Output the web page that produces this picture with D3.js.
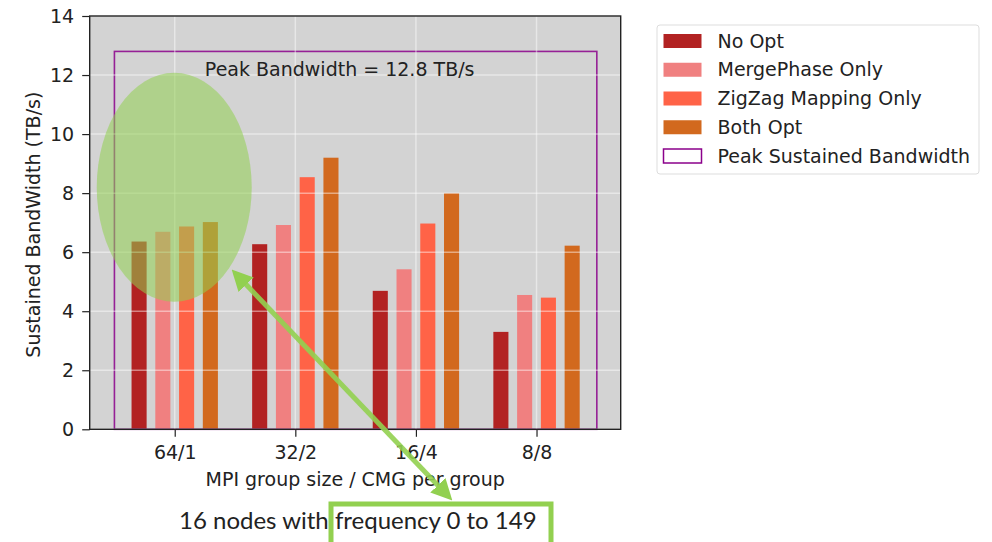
<!DOCTYPE html>
<html>
<head>
<meta charset="utf-8">
<script src="https://cdn.jsdelivr.net/npm/d3@7/dist/d3.min.js"></script>
<style>
  body { margin: 0; background: #fff; }
  svg text { font-family: "DejaVu Sans", sans-serif; fill: #222; }
</style>
</head>
<body>
<svg id="chart" width="992" height="542"></svg>
<script>
const categories = ['64/1', '32/2', '16/4', '8/8'];
const seriesNames = ['No Opt', 'MergePhase Only', 'ZigZag Mapping Only', 'Both Opt'];
const seriesColors = ['#b22222', '#f08080', '#ff6347', '#d2691e'];
const noOpt = [6.36, 6.27, 4.69, 3.30];
const mergePhase = [6.69, 6.92, 5.42, 4.55];
const zigzag = [6.87, 8.54, 6.97, 4.46];
const bothOpt = [7.02, 9.20, 8.00, 6.22];
const yTicks = [0, 2, 4, 6, 8, 10, 12, 14];
const peakBandwidth = 12.8;

const series = [noOpt, mergePhase, zigzag, bothOpt];
const fs = 19;

const svg = d3.select('#chart');
const margin = { left: 89.7, top: 16, right: 371.3, bottom: 112.7 };
const width = 992 - margin.left - margin.right;
const height = 542 - margin.top - margin.bottom;

// numeric x like matplotlib: category index, xlim -0.705..3.698
const x = d3.scaleLinear().domain([-0.705, 3.698]).range([0, width]);
const y = d3.scaleLinear().domain([0, 14]).range([height, 0]);

const g = svg.append('g').attr('transform', `translate(${margin.left},${margin.top})`);

g.append('rect')
  .attr('width', width).attr('height', height)
  .attr('fill', '#d3d3d3');

// bars
const barW = 0.125;
const step = 0.197;
series.forEach((vals, si) => {
  g.selectAll(`.bar_${si}`)
    .data(vals)
    .enter()
    .append('rect')
    .attr('class', `bar_${si}`)
    .attr('x', (d, i) => x(i + (si - 1.5) * step - barW / 2))
    .attr('y', d => y(d))
    .attr('width', x(barW) - x(0))
    .attr('height', d => y(0) - y(d))
    .attr('fill', seriesColors[si]);
});

// peak rectangle
g.append('rect')
  .attr('x', x(-0.5))
  .attr('y', y(peakBandwidth))
  .attr('width', x(3.5) - x(-0.5))
  .attr('height', y(0) - y(peakBandwidth))
  .attr('fill', 'none')
  .attr('stroke', '#8b008b')
  .attr('stroke-opacity', 0.85)
  .attr('stroke-width', 1.6);

// grid on top
const grid = g.append('g').attr('stroke', '#fff').attr('stroke-opacity', 0.45).attr('stroke-width', 1.5);
yTicks.forEach(t => {
  grid.append('line').attr('x1', 0).attr('x2', width).attr('y1', y(t)).attr('y2', y(t));
});
categories.forEach((c, i) => {
  grid.append('line').attr('x1', x(i)).attr('x2', x(i)).attr('y1', 0).attr('y2', height);
});

g.append('text')
  .attr('x', x(0.25))
  .attr('y', y(peakBandwidth) + 25)
  .attr('font-size', fs)
  .text(`Peak Bandwidth = ${peakBandwidth} TB/s`);

// axes
const yAxis = g.append('g').call(d3.axisLeft(y).tickValues(yTicks).tickSize(7.5).tickPadding(8));
const xAxis = g.append('g').attr('transform', `translate(0,${height})`)
  .call(d3.axisBottom(x).tickValues(d3.range(categories.length)).tickFormat(i => categories[i]).tickSize(7.5).tickPadding(9));
[yAxis, xAxis].forEach(a => {
  a.select('.domain').remove();
  a.selectAll('text').attr('font-size', fs).attr('fill', '#222').style('font-family', '"DejaVu Sans", sans-serif');
  a.selectAll('line').attr('stroke', '#222').attr('stroke-width', 1.2);
});

g.append('rect')
  .attr('width', width).attr('height', height)
  .attr('fill', 'none').attr('stroke', '#222').attr('stroke-width', 1.4);

svg.append('text')
  .attr('transform', `translate(39.5,${margin.top + height / 2 + 2}) rotate(-90)`)
  .attr('text-anchor', 'middle')
  .attr('font-size', fs)
  .text('Sustained BandWidth (TB/s)');

svg.append('text')
  .attr('x', margin.left + width / 2)
  .attr('y', 486)
  .attr('text-anchor', 'middle')
  .attr('font-size', fs)
  .text('MPI group size / CMG per group');

// legend
const legend = svg.append('g').attr('transform', 'translate(657,25)');
legend.append('rect')
  .attr('width', 322).attr('height', 149).attr('rx', 3)
  .attr('fill', '#fff').attr('stroke', '#ddd').attr('stroke-width', 1);
const legendItems = seriesNames.map((n, i) => ({ name: n, color: seriesColors[i], peak: false }))
  .concat([{ name: 'Peak Sustained Bandwidth', color: 'none', peak: true }]);
legendItems.forEach((d, i) => {
  const row = legend.append('g').attr('transform', `translate(0,${16 + i * 28.75})`);
  row.append('rect')
    .attr('x', 6.5).attr('y', -7).attr('width', 38).attr('height', 14)
    .attr('fill', d.peak ? '#fff' : d.color)
    .attr('stroke', d.peak ? '#8b008b' : 'none')
    .attr('stroke-width', 1.5);
  row.append('text')
    .attr('x', 60.5).attr('y', 0).attr('dy', '0.35em')
    .attr('font-size', fs)
    .text(d.name);
});

// annotation overlay
const annotColor = '#92d050';
svg.append('ellipse')
  .attr('cx', margin.left + x(0) - 0.5)
  .attr('cy', margin.top + y(8.2))
  .attr('rx', 77.5).attr('ry', 114.5)
  .attr('fill', annotColor).attr('fill-opacity', 0.55);

const defs = svg.append('defs');
defs.append('marker')
  .attr('id', 'head').attr('viewBox', '0 0 10 10')
  .attr('refX', 7).attr('refY', 5)
  .attr('markerWidth', 4.2).attr('markerHeight', 4.2)
  .attr('markerUnits', 'strokeWidth')
  .attr('orient', 'auto-start-reverse')
  .append('path').attr('d', 'M0,0 L10,5 L0,10 z').attr('fill', annotColor);

svg.append('line')
  .attr('x1', 236).attr('y1', 274)
  .attr('x2', 448).attr('y2', 496)
  .attr('stroke', annotColor).attr('stroke-opacity', 0.9)
  .attr('stroke-width', 5)
  .attr('marker-start', 'url(#head)')
  .attr('marker-end', 'url(#head)');

svg.append('rect')
  .attr('x', 331).attr('y', 504)
  .attr('width', 220).attr('height', 50)
  .attr('fill', '#fff').attr('stroke', annotColor).attr('stroke-width', 5);

svg.append('text')
  .attr('x', 179).attr('y', 529)
  .attr('font-size', 24)
  .style('font-family', 'Lato, sans-serif')
  .attr('fill', '#111')
  .text('16 nodes with frequency 0 to 149');
</script>
</body>
</html>
